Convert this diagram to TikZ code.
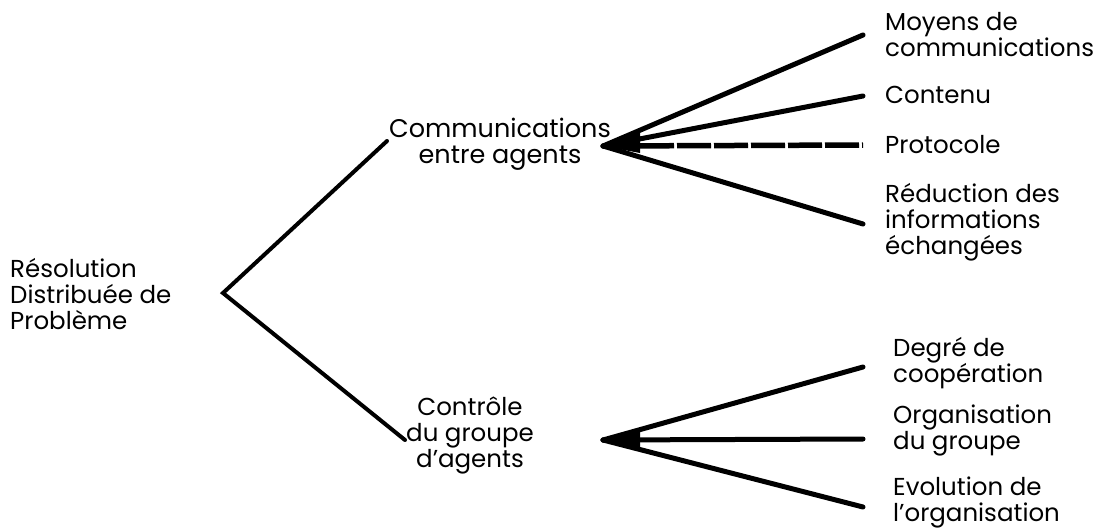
\documentclass[tikz,border=0pt]{standalone}
\usepackage{fontspec}
\setmainfont{Poppins}
\begin{document}
\begin{tikzpicture}[x=1pt,y=-1pt,
  lbl/.style={anchor=west,align=left,inner sep=0pt,font=\fontsize{24.5}{26}\selectfont},
  ctr/.style={align=center,inner sep=0pt,font=\fontsize{25.5}{26}\selectfont},
  trunk/.style={line width=4pt,line cap=round},
  twig/.style={line width=5pt,line cap=round},
  wedge/.style={fill=black,draw=none}]
\useasboundingbox (0,0) rectangle (1104,531);
% labels
\node[lbl] (root) at (10,294) {Résolution\\Distribuée de\\Problème};
\node[ctr] (comm) at (500,144) {Communications\\entre agents};
\node[ctr,font=\fontsize{24.5}{26}\selectfont] (ctrl) at (470,436) {Contrôle\\du groupe\\d'agents};
\node[lbl] (m1) at (885,35) {Moyens de\\communications};
\node[lbl] (m2) at (885,95) {Contenu};
\node[lbl] (m3) at (885,145) {Protocole};
\node[lbl] (m4) at (885,222) {Réduction des\\informations\\échangées};
\node[lbl] (c1) at (893,363) {Degré de\\coopération};
\node[lbl] (c2) at (893,430) {Organisation\\du groupe};
\node[lbl] (c3) at (893,502) {Evolution de\\l'organisation};
% branching points and free ends
\coordinate (r0) at (223,293);
\coordinate (rU) at (387,141);
\coordinate (rL) at (405,440);
\coordinate (u0) at (603,146);
\coordinate (l0) at (603,440);
\coordinate (e1) at (863,35);
\coordinate (e2) at (863,96);
\coordinate (e3) at (863,145);
\coordinate (e4) at (863,224);
\coordinate (f1) at (863,367);
\coordinate (f2) at (863,439);
\coordinate (f3) at (863,507);
% first level
\draw[trunk,line join=miter] (rU) -- (r0) -- (rL);
% communication branch
\fill[wedge] (u0) -- (640,131) -- (640,153) -- cycle;
\draw[twig] (u0) -- (e1);
\draw[twig] (u0) -- (e2);
\draw[twig] (u0) -- (e4);
\draw[line width=5.5pt,dash pattern=on 34pt off 3pt] (u0) -- (e3);
% control branch
\fill[wedge] (l0) -- (640,431) -- (640,449) -- cycle;
\draw[twig] (l0) -- (f1);
\draw[twig] (l0) -- (f2);
\draw[twig] (l0) -- (f3);
\end{tikzpicture}
\end{document}
